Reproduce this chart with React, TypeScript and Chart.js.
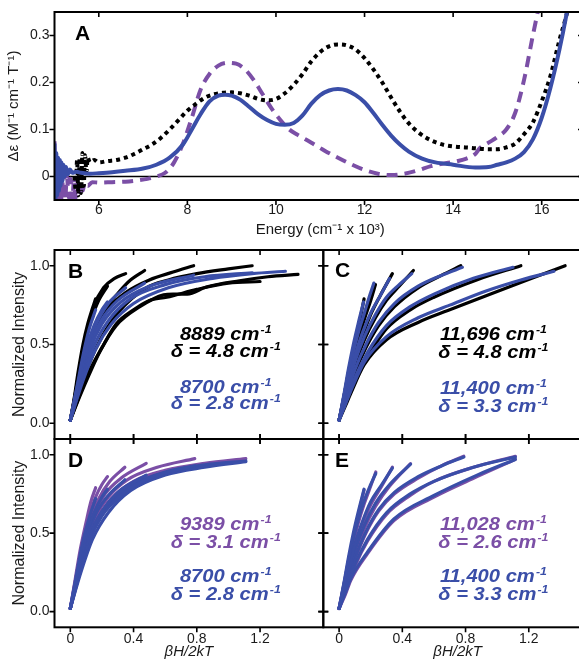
import React, { useEffect, useRef } from 'react';
import { Chart, registerables } from 'chart.js';

Chart.register(...registerables);

const FONT = '"Liberation Sans", Arial, Helvetica, sans-serif';
const INK = '#1a1a1a';
const BLACK = '#000000';
const BLUE = '#3a4ea8';
const PURPLE = '#7b4fa6';
const SUP = '-1';

// ---------------- Panel A : MCD spectra ----------------
const energyBlue = [5.0, 5.02, 5.04, 5.06, 5.08, 5.1, 5.12, 5.14, 5.16, 5.18, 5.2, 5.23, 5.26, 5.3, 5.35, 5.4, 5.5, 5.6, 5.8, 6.0, 6.3, 6.6, 7.0, 7.3, 7.6, 7.9, 8.1, 8.3, 8.5, 8.7, 8.85, 9.0, 9.2, 9.4, 9.6, 9.8, 10.0, 10.2, 10.4, 10.6, 10.8, 11.0, 11.2, 11.4, 11.6, 11.8, 12.0, 12.2, 12.4, 12.6, 12.8, 13.0, 13.3, 13.6, 14.0, 14.5, 14.8, 15.0, 15.2, 15.4, 15.6, 15.8, 16.0, 16.2, 16.4, 16.55, 16.7];
const deltaEpsBlue = [0.07, -0.05, 0.05, -0.04, 0.04, -0.03, 0.035, -0.02, 0.03, -0.01, 0.025, 0.0, 0.02, 0.005, 0.015, 0.008, 0.01, 0.008, 0.006, 0.007, 0.009, 0.012, 0.017, 0.025, 0.04, 0.068, 0.1, 0.133, 0.16, 0.172, 0.174, 0.172, 0.163, 0.148, 0.132, 0.12, 0.112, 0.11, 0.114, 0.13, 0.155, 0.173, 0.183, 0.186, 0.183, 0.173, 0.158, 0.135, 0.11, 0.087, 0.068, 0.053, 0.038, 0.03, 0.025, 0.019, 0.02, 0.025, 0.03, 0.038, 0.052, 0.079, 0.125, 0.19, 0.27, 0.34, 0.42];

const energyBlack = [5.45, 5.48, 5.51, 5.54, 5.57, 5.6, 5.63, 5.66, 5.69, 5.72, 5.75, 5.8, 5.9, 6.0, 6.2, 6.4, 6.6, 6.8, 7.0, 7.2, 7.4, 7.6, 7.8, 8.0, 8.2, 8.4, 8.6, 8.8, 9.0, 9.2, 9.4, 9.6, 9.8, 10.0, 10.2, 10.4, 10.6, 10.8, 11.0, 11.2, 11.4, 11.6, 11.8, 12.0, 12.2, 12.4, 12.6, 12.8, 13.0, 13.2, 13.4, 13.6, 13.8, 14.0, 14.4, 14.8, 15.0, 15.2, 15.4, 15.6, 15.8, 16.0, 16.2, 16.4, 16.55, 16.7];
const deltaEpsBlack = [0.0, -0.03, 0.035, -0.04, 0.04, -0.035, 0.05, -0.02, 0.045, 0.01, 0.04, 0.03, 0.035, 0.03, 0.033, 0.035, 0.04, 0.048, 0.058, 0.068, 0.082, 0.1, 0.12, 0.14, 0.155, 0.168, 0.175, 0.178, 0.179, 0.177, 0.172, 0.165, 0.162, 0.165, 0.177, 0.195, 0.218, 0.245, 0.265, 0.277, 0.281, 0.279, 0.27, 0.252, 0.228, 0.2, 0.168, 0.138, 0.113, 0.095, 0.082, 0.073, 0.067, 0.064, 0.061, 0.058, 0.058, 0.062, 0.07, 0.09, 0.115, 0.16, 0.215, 0.29, 0.34, 0.4];

const energyPurple = [5.0, 5.03, 5.06, 5.09, 5.12, 5.16, 5.2, 5.24, 5.28, 5.32, 5.36, 5.4, 5.44, 5.48, 5.52, 5.56, 5.6, 5.64, 5.68, 5.75, 5.85, 6.0, 6.3, 6.6, 6.9, 7.1, 7.3, 7.5, 7.7, 7.9, 8.1, 8.3, 8.5, 8.7, 8.9, 9.1, 9.3, 9.5, 9.7, 9.9, 10.1, 10.3, 10.5, 10.8, 11.1, 11.4, 11.7, 12.0, 12.3, 12.6, 12.9, 13.2, 13.5, 13.8, 14.1, 14.3, 14.5, 14.6, 14.8, 15.0, 15.2, 15.4, 15.6, 15.8, 16.0];
const deltaEpsPurple = [0.075, -0.05, 0.04, -0.05, 0.02, -0.05, 0.01, -0.05, 0.0, -0.045, -0.005, -0.05, -0.01, -0.045, -0.015, -0.04, -0.01, -0.03, -0.012, -0.02, -0.012, -0.013, -0.012, -0.011, -0.008, -0.005, 0.0, 0.008, 0.03, 0.07, 0.125, 0.185, 0.218, 0.236, 0.242, 0.24, 0.228, 0.205, 0.175, 0.145, 0.12, 0.1, 0.088, 0.072, 0.055, 0.04, 0.026, 0.014, 0.006, 0.003, 0.006, 0.013, 0.022, 0.028, 0.033, 0.038, 0.048, 0.06, 0.072, 0.084, 0.1, 0.135, 0.205, 0.3, 0.39];

const energyTicks = [6, 8, 10, 12, 14, 16];
const deltaEpsTicks = [0, 0.1, 0.2, 0.3];
const satTicksX = [0, 0.4, 0.8, 1.2];
const satTicksY = [0, 0.5, 1.0];

// ---------------- Panel B : 8889 data (black) and 8700 fit (blue) ----------------
const bBlackCurves: number[][][] = [
  [[0, 0.02], [0.02, 0.13], [0.05, 0.33], [0.08, 0.5], [0.11, 0.63], [0.14, 0.73], [0.16, 0.79]],
  [[0, 0.02], [0.03, 0.18], [0.06, 0.36], [0.1, 0.55], [0.14, 0.68], [0.18, 0.78], [0.235, 0.87]],
  [[0, 0.02], [0.04, 0.22], [0.08, 0.44], [0.105, 0.57], [0.147, 0.74], [0.21, 0.86], [0.28, 0.92], [0.35, 0.95]],
  [[0, 0.02], [0.05, 0.22], [0.1, 0.45], [0.15, 0.6], [0.2, 0.7], [0.28, 0.8], [0.37, 0.9], [0.47, 0.97]],
  [[0, 0.02], [0.05, 0.22], [0.1, 0.42], [0.16, 0.6], [0.24, 0.73], [0.35, 0.83], [0.5, 0.91], [0.65, 0.96], [0.78, 1.0]],
  [[0, 0.02], [0.06, 0.2], [0.12, 0.38], [0.2, 0.55], [0.3, 0.7], [0.48, 0.86], [0.62, 0.91], [0.8, 0.95], [1.0, 0.98], [1.15, 1.0]],
  [[0, 0.02], [0.06, 0.18], [0.12, 0.33], [0.2, 0.48], [0.29, 0.63], [0.4, 0.72], [0.5, 0.78], [0.61, 0.8], [0.8, 0.85], [1.0, 0.89], [1.2, 0.9]],
  [[0, 0.02], [0.06, 0.17], [0.12, 0.31], [0.19, 0.46], [0.29, 0.62], [0.44, 0.74], [0.59, 0.815], [0.65, 0.82], [0.74, 0.82], [0.86, 0.865], [1.07, 0.905], [1.25, 0.93], [1.44, 0.945]],
];
const bBlueCurves: number[][][] = [
  [[0, 0.02], [0.04, 0.22], [0.08, 0.43], [0.12, 0.6], [0.16, 0.72]],
  [[0, 0.02], [0.05, 0.26], [0.1, 0.47], [0.15, 0.62], [0.2, 0.72], [0.235, 0.77]],
  [[0, 0.02], [0.05, 0.24], [0.1, 0.45], [0.16, 0.62], [0.24, 0.76], [0.35, 0.86]],
  [[0, 0.02], [0.06, 0.27], [0.12, 0.49], [0.2, 0.66], [0.3, 0.78], [0.47, 0.89]],
  [[0, 0.02], [0.06, 0.25], [0.12, 0.46], [0.2, 0.63], [0.32, 0.77], [0.5, 0.87], [0.78, 0.94]],
  [[0, 0.02], [0.07, 0.26], [0.14, 0.47], [0.24, 0.65], [0.38, 0.79], [0.6, 0.88], [0.85, 0.93], [1.15, 0.955]],
  [[0, 0.02], [0.08, 0.27], [0.16, 0.47], [0.26, 0.63], [0.4, 0.76], [0.62, 0.86], [0.9, 0.92], [1.15, 0.95], [1.36, 0.965]],
];
const bNoteTexts = ['8889 cm', 'δ = 4.8 cm', '8700 cm', 'δ = 2.8 cm'];
const bNoteColors = [BLACK, BLACK, BLUE, BLUE];

// ---------------- Panel C : 11,696 data (black) and 11,400 fit (blue) ----------------
const cBlackCurves: number[][][] = [
  [[0, 0.02], [0.03, 0.17], [0.06, 0.33], [0.09, 0.47], [0.12, 0.6], [0.158, 0.79]],
  [[0, 0.02], [0.04, 0.2], [0.08, 0.38], [0.12, 0.53], [0.16, 0.66], [0.2, 0.78], [0.23, 0.88]],
  [[0, 0.02], [0.05, 0.22], [0.1, 0.41], [0.15, 0.56], [0.2, 0.69], [0.26, 0.81], [0.337, 0.95]],
  [[0, 0.02], [0.05, 0.2], [0.1, 0.37], [0.16, 0.53], [0.23, 0.67], [0.3, 0.78], [0.38, 0.87], [0.47, 0.97]],
  [[0, 0.02], [0.05, 0.18], [0.1, 0.32], [0.17, 0.48], [0.25, 0.62], [0.35, 0.74], [0.5, 0.86], [0.65, 0.94], [0.77, 1.0]],
  [[0, 0.02], [0.05, 0.15], [0.1, 0.27], [0.18, 0.42], [0.3, 0.6], [0.45, 0.72], [0.6, 0.8], [0.87, 0.91], [1.15, 1.0]],
  [[0, 0.02], [0.04, 0.11], [0.074, 0.19], [0.158, 0.37], [0.3, 0.53], [0.5, 0.64], [0.7, 0.72], [0.93, 0.81], [1.19, 0.91], [1.43, 1.0]],
];
const cBlueCurves: number[][][] = [
  [[0, 0.02], [0.03, 0.18], [0.06, 0.35], [0.09, 0.5], [0.12, 0.63], [0.155, 0.77]],
  [[0, 0.02], [0.04, 0.22], [0.08, 0.41], [0.12, 0.57], [0.16, 0.7], [0.19, 0.8], [0.22, 0.89]],
  [[0, 0.02], [0.05, 0.24], [0.1, 0.43], [0.15, 0.58], [0.2, 0.7], [0.26, 0.81], [0.32, 0.92]],
  [[0, 0.02], [0.05, 0.21], [0.1, 0.39], [0.16, 0.55], [0.23, 0.69], [0.3, 0.8], [0.38, 0.88], [0.46, 0.95]],
  [[0, 0.02], [0.05, 0.19], [0.1, 0.34], [0.17, 0.5], [0.25, 0.64], [0.35, 0.76], [0.5, 0.87], [0.65, 0.94], [0.78, 0.99]],
  [[0, 0.02], [0.05, 0.16], [0.1, 0.29], [0.18, 0.45], [0.3, 0.62], [0.45, 0.74], [0.6, 0.82], [0.85, 0.92], [1.1, 0.99]],
  [[0, 0.02], [0.04, 0.12], [0.08, 0.22], [0.16, 0.39], [0.3, 0.55], [0.5, 0.67], [0.7, 0.75], [0.93, 0.84], [1.15, 0.91], [1.36, 0.965]],
];
const cNoteTexts = ['11,696 cm', 'δ = 4.8 cm', '11,400 cm', 'δ = 3.3 cm'];
const cNoteColors = [BLACK, BLACK, BLUE, BLUE];

// ---------------- Panel D : 9389 data (purple) and 8700 fit (blue) ----------------
const dPurpleCurves: number[][][] = [
  [[0, 0.02], [0.03, 0.2], [0.06, 0.38], [0.1, 0.57], [0.13, 0.7], [0.16, 0.79]],
  [[0, 0.02], [0.04, 0.24], [0.08, 0.45], [0.12, 0.61], [0.16, 0.73], [0.2, 0.81], [0.235, 0.86]],
  [[0, 0.02], [0.04, 0.22], [0.08, 0.42], [0.13, 0.6], [0.18, 0.72], [0.25, 0.83], [0.345, 0.92]],
  [[0, 0.02], [0.05, 0.25], [0.1, 0.46], [0.15, 0.62], [0.22, 0.75], [0.32, 0.85], [0.48, 0.945]],
  [[0, 0.02], [0.05, 0.23], [0.1, 0.43], [0.16, 0.6], [0.24, 0.73], [0.36, 0.84], [0.55, 0.92], [0.787, 0.975]],
  [[0, 0.02], [0.05, 0.21], [0.1, 0.4], [0.17, 0.58], [0.26, 0.72], [0.4, 0.83], [0.6, 0.9], [0.85, 0.945], [1.11, 0.975]],
];
const dBlueCurves: number[][][] = [
  [[0, 0.02], [0.04, 0.24], [0.08, 0.45], [0.12, 0.6], [0.16, 0.72]],
  [[0, 0.02], [0.05, 0.27], [0.1, 0.49], [0.15, 0.63], [0.2, 0.73], [0.235, 0.78]],
  [[0, 0.02], [0.05, 0.25], [0.1, 0.46], [0.16, 0.62], [0.24, 0.74], [0.345, 0.84]],
  [[0, 0.02], [0.06, 0.27], [0.12, 0.48], [0.2, 0.64], [0.3, 0.76], [0.48, 0.87]],
  [[0, 0.02], [0.06, 0.25], [0.12, 0.45], [0.2, 0.61], [0.32, 0.74], [0.5, 0.85], [0.787, 0.93]],
  [[0, 0.02], [0.07, 0.26], [0.14, 0.46], [0.24, 0.63], [0.38, 0.77], [0.6, 0.87], [0.85, 0.92], [1.11, 0.955]],
  [[0, 0.02], [0.07, 0.3], [0.14, 0.52], [0.24, 0.68], [0.38, 0.8], [0.6, 0.89], [0.85, 0.935], [1.11, 0.96]],
];
const dNoteTexts = ['9389 cm', 'δ = 3.1 cm', '8700 cm', 'δ = 2.8 cm'];
const dNoteColors = [PURPLE, PURPLE, BLUE, BLUE];

// ---------------- Panel E : 11,028 data (purple) and 11,400 fit (blue) ----------------
const ePurpleCurves: number[][][] = [
  [[0, 0.02], [0.03, 0.17], [0.06, 0.33], [0.09, 0.47], [0.12, 0.61], [0.158, 0.775]],
  [[0, 0.02], [0.04, 0.21], [0.08, 0.4], [0.12, 0.56], [0.16, 0.69], [0.2, 0.8], [0.232, 0.89]],
  [[0, 0.02], [0.05, 0.22], [0.1, 0.41], [0.15, 0.56], [0.2, 0.68], [0.27, 0.8], [0.337, 0.92]],
  [[0, 0.02], [0.05, 0.2], [0.1, 0.37], [0.16, 0.53], [0.23, 0.67], [0.32, 0.8], [0.452, 0.943]],
  [[0, 0.02], [0.05, 0.18], [0.1, 0.33], [0.17, 0.5], [0.25, 0.64], [0.35, 0.75], [0.5, 0.85], [0.65, 0.93], [0.789, 0.99]],
  [[0, 0.02], [0.05, 0.16], [0.1, 0.29], [0.18, 0.45], [0.3, 0.62], [0.45, 0.74], [0.6, 0.83], [0.85, 0.92], [1.115, 0.99]],
  [[0, 0.02], [0.04, 0.11], [0.074, 0.2], [0.18, 0.37], [0.347, 0.58], [0.6, 0.73], [0.873, 0.86], [1.115, 0.97]],
];
const eBlueCurves: number[][][] = [
  [[0, 0.02], [0.03, 0.18], [0.06, 0.35], [0.09, 0.5], [0.12, 0.63], [0.158, 0.78]],
  [[0, 0.02], [0.04, 0.22], [0.08, 0.42], [0.12, 0.58], [0.16, 0.71], [0.2, 0.81], [0.232, 0.88]],
  [[0, 0.02], [0.05, 0.23], [0.1, 0.43], [0.15, 0.58], [0.2, 0.7], [0.27, 0.81], [0.337, 0.915]],
  [[0, 0.02], [0.05, 0.21], [0.1, 0.39], [0.16, 0.55], [0.23, 0.69], [0.32, 0.81], [0.452, 0.94]],
  [[0, 0.02], [0.05, 0.19], [0.1, 0.34], [0.17, 0.51], [0.25, 0.65], [0.35, 0.76], [0.5, 0.86], [0.65, 0.93], [0.789, 0.985]],
  [[0, 0.02], [0.05, 0.17], [0.1, 0.3], [0.18, 0.46], [0.3, 0.63], [0.45, 0.75], [0.6, 0.83], [0.85, 0.92], [1.115, 0.985]],
  [[0, 0.02], [0.04, 0.12], [0.074, 0.21], [0.18, 0.38], [0.347, 0.59], [0.6, 0.74], [0.873, 0.87], [1.115, 0.97]],
];
const eNoteTexts = ['11,028 cm', 'δ = 2.6 cm', '11,400 cm', 'δ = 3.3 cm'];
const eNoteColors = [PURPLE, PURPLE, BLUE, BLUE];

// ---------------- helpers ----------------
const zipXY = (xs: number[], ys: number[]) => xs.map((x, i) => ({ x, y: ys[i] }));

const curveSets = (curves: number[][][], color: string, width = 3.2) =>
  curves.map((c) => ({
    data: c.map(([x, y]) => ({ x, y })),
    borderColor: color,
    borderWidth: width,
    pointRadius: 0,
    fill: false,
    cubicInterpolationMode: 'monotone',
    borderCapStyle: 'round',
    borderJoinStyle: 'round',
  }));

const specLine = (xs: number[], ys: number[], color: string, dash: number[]) => ({
  data: zipXY(xs, ys),
  borderColor: color,
  borderWidth: 4,
  borderDash: dash,
  borderCapStyle: 'butt',
  pointRadius: 0,
  fill: false,
  cubicInterpolationMode: 'monotone',
});

function drawNote(ctx: CanvasRenderingContext2D, cx: number, baseline: number, text: string, color: string) {
  const mainFont = `italic bold 18px ${FONT}`;
  const supFont = `italic bold 11px ${FONT}`;
  const sx = 1.12;
  ctx.save();
  ctx.font = mainFont;
  const w1 = ctx.measureText(text).width;
  ctx.font = supFont;
  const w2 = ctx.measureText(SUP).width;
  const total = (w1 + 1 + w2) * sx;
  ctx.translate(cx - total / 2, baseline);
  ctx.scale(sx, 1);
  ctx.fillStyle = color;
  ctx.textAlign = 'left';
  ctx.textBaseline = 'alphabetic';
  ctx.font = mainFont;
  ctx.fillText(text, 0, 0);
  ctx.font = supFont;
  ctx.fillText(SUP, w1 + 1, -7);
  ctx.restore();
}

function makePlugins(s: any) {
  const frame = {
    id: 'frame',
    beforeDatasetsDraw(chart: any) {
      if (!s.zeroLine) return;
      const { ctx, chartArea: a, scales } = chart;
      const y0 = scales.y.getPixelForValue(0);
      ctx.save();
      ctx.strokeStyle = '#000';
      ctx.lineWidth = 1.5;
      ctx.beginPath();
      ctx.moveTo(a.left, y0);
      ctx.lineTo(a.right, y0);
      ctx.stroke();
      ctx.restore();
    },
    afterDraw(chart: any) {
      const { ctx, chartArea: a, scales } = chart;
      const xs = scales.x;
      const ys = scales.y;
      const sd = s.sides;
      ctx.save();
      ctx.strokeStyle = '#000';
      ctx.lineWidth = 1.6;
      ctx.beginPath();
      for (const t of xs.ticks) {
        const p = xs.getPixelForValue(t.value);
        const [bo, bi] = sd.bottom;
        if (bo || bi) { ctx.moveTo(p, a.bottom - bi); ctx.lineTo(p, a.bottom + bo); }
        const [to, ti] = sd.top;
        if (to || ti) { ctx.moveTo(p, a.top - to); ctx.lineTo(p, a.top + ti); }
      }
      for (const t of ys.ticks) {
        const p = ys.getPixelForValue(t.value);
        const [lo, li] = sd.left;
        if (lo || li) { ctx.moveTo(a.left - lo, p); ctx.lineTo(a.left + li, p); }
        const [ro, ri] = sd.right;
        if (ro || ri) { ctx.moveTo(a.right - ri, p); ctx.lineTo(a.right + ro, p); }
      }
      ctx.stroke();
      ctx.lineWidth = 2;
      ctx.strokeRect(a.left, a.top, a.right - a.left, a.bottom - a.top);
      ctx.restore();
    },
  };
  const notes = {
    id: 'notes',
    afterDraw(chart: any) {
      const { ctx, chartArea: a, scales } = chart;
      ctx.save();
      ctx.fillStyle = '#000';
      ctx.font = `bold 21px ${FONT}`;
      ctx.textAlign = 'left';
      ctx.textBaseline = 'alphabetic';
      ctx.fillText(s.letter, a.left + s.letterDx, a.top + s.letterDy);
      ctx.restore();
      if (s.noteTexts) {
        const cx = scales.x.getPixelForValue(s.noteAt[0]);
        const by = scales.y.getPixelForValue(s.noteAt[1]);
        s.noteTexts.forEach((t: string, i: number) => drawNote(ctx, cx, by + s.noteOffsets[i], t, s.noteColors[i]));
      }
    },
  };
  return [frame, notes];
}

function buildConfig(s: any) {
  const tickFont = { size: 14, family: FONT };
  return {
    type: 'line',
    data: { datasets: s.datasets },
    options: {
      animation: false,
      responsive: false,
      maintainAspectRatio: false,
      devicePixelRatio: 1,
      events: [],
      layout: { padding: { top: s.padTop, right: s.padRight, left: 0, bottom: 0 } },
      plugins: { legend: { display: false }, tooltip: { enabled: false }, title: { display: false } },
      scales: {
        x: {
          type: 'linear',
          min: s.xMin,
          max: s.xMax,
          grid: { display: false, drawTicks: false },
          border: { display: false },
          afterBuildTicks: (sc: any) => { sc.ticks = s.xTicks.map((v: number) => ({ value: v })); },
          afterFit: (sc: any) => { sc.height = s.xHeight; },
          ticks: {
            display: s.showX,
            padding: s.xTickPad,
            font: tickFont,
            color: INK,
            maxRotation: 0,
            autoSkip: false,
            callback: (v: any) => s.xFmt(Number(v)),
          },
          title: s.xTitle
            ? { display: true, text: s.xTitle, color: INK, font: { size: 15, family: FONT, style: s.xItalic ? 'italic' : 'normal' }, padding: { top: 0, bottom: s.xTitlePad } }
            : { display: false },
        },
        y: {
          type: 'linear',
          min: s.yMin,
          max: s.yMax,
          grid: { display: false, drawTicks: false },
          border: { display: false },
          afterBuildTicks: (sc: any) => { sc.ticks = s.yTicks.map((v: number) => ({ value: v })); },
          afterFit: (sc: any) => { sc.width = s.yWidth; },
          ticks: {
            display: s.showY,
            padding: 5,
            font: tickFont,
            color: INK,
            autoSkip: false,
            callback: (v: any) => s.yFmt(Number(v)),
          },
          title: s.yTitle
            ? { display: true, text: s.yTitle, color: INK, font: { size: s.yTitleSize, family: FONT }, padding: { top: s.yTitlePad, bottom: 0 } }
            : { display: false },
        },
      },
    },
    plugins: makePlugins(s),
  };
}

const fmtSat = (v: number) => (Math.abs(v) < 1e-9 ? '0' : v.toFixed(1));
const fmtSatY = (v: number) => v.toFixed(1);
const fmtA = (v: number) => (Math.abs(v) < 1e-9 ? '0' : v.toFixed(1));

const satBase = {
  xMin: -0.1, xMax: 1.6, yMin: -0.1, yMax: 1.1,
  xTicks: satTicksX, yTicks: satTicksY, xFmt: fmtSat, yFmt: fmtSatY,
  padTop: 20,
};

const panelA = {
  left: 0, top: -10, w: 600, h: 255,
  padTop: 22, padRight: 14, yWidth: 54.5, xHeight: 45,
  xMin: 5, xMax: 17, yMin: -0.05, yMax: 0.35,
  xTicks: energyTicks, yTicks: deltaEpsTicks,
  xFmt: (v: number) => String(v), yFmt: fmtA,
  showX: true, showY: true, xTickPad: 2,
  xTitle: 'Energy (cm⁻¹ x 10³)', xTitlePad: 6, xItalic: false,
  yTitle: 'Δε (M⁻¹ cm⁻¹ T⁻¹)', yTitlePad: 5, yTitleSize: 15,
  zeroLine: true,
  sides: { left: [5, 0], right: [0, 8], top: [0, 5], bottom: [5, 0] },
  letter: 'A', letterDx: 20.5, letterDy: 28,
  datasets: [
    specLine(energyBlue, deltaEpsBlue, BLUE, []),
    specLine(energyBlack, deltaEpsBlack, BLACK, [4, 4]),
    specLine(energyPurple, deltaEpsPurple, PURPLE, [11, 7]),
  ],
};

const panelB = {
  ...satBase,
  left: 0, top: 230, w: 340, h: 230,
  padRight: 16.7, yWidth: 54.5, xHeight: 21,
  showX: false, showY: true, xTickPad: 3,
  yTitle: 'Normalized Intensity', yTitlePad: 9.9, yTitleSize: 16,
  sides: { left: [5, 0], right: [5, 5], top: [0, 5], bottom: [5, 5] },
  letter: 'B', letterDx: 13.5, letterDy: 28,
  noteTexts: bNoteTexts, noteColors: bNoteColors, noteAt: [0.983, 0.528], noteOffsets: [0, 17.3, 52.7, 69.3],
  datasets: [...curveSets(bBlueCurves, BLUE), ...curveSets(bBlackCurves, BLACK)],
};

const panelC = {
  ...satBase,
  left: 300, top: 230, w: 300, h: 230,
  padRight: 8, yWidth: 23.3, xHeight: 21,
  showX: false, showY: false, xTickPad: 3,
  sides: { left: [5, 5], right: [0, 5], top: [0, 5], bottom: [5, 5] },
  letter: 'C', letterDx: 11.7, letterDy: 27,
  noteTexts: cNoteTexts, noteColors: cNoteColors, noteAt: [0.976, 0.528], noteOffsets: [0, 18, 54, 71.7],
  datasets: [...curveSets(cBlueCurves, BLUE), ...curveSets(cBlackCurves, BLACK)],
};

const panelD = {
  ...satBase,
  left: 0, top: 419, w: 340, h: 242,
  padRight: 16.7, yWidth: 54.5, xHeight: 33.7,
  showX: true, showY: true, xTickPad: 3,
  xTitle: 'βH/2kT', xTitlePad: 0, xItalic: true,
  yTitle: 'Normalized Intensity', yTitlePad: 9.9, yTitleSize: 16,
  sides: { left: [5, 0], right: [5, 5], top: [5, 5], bottom: [5, 0] },
  letter: 'D', letterDx: 13.5, letterDy: 28,
  noteTexts: dNoteTexts, noteColors: dNoteColors, noteAt: [0.983, 0.519], noteOffsets: [0, 18.3, 51.7, 70],
  datasets: [...curveSets(dBlueCurves, BLUE), ...curveSets(dPurpleCurves, PURPLE)],
};

const panelE = {
  ...satBase,
  left: 300, top: 419, w: 300, h: 242,
  padRight: 8, yWidth: 23.3, xHeight: 33.7,
  showX: true, showY: false, xTickPad: 3,
  xTitle: 'βH/2kT', xTitlePad: 0, xItalic: true,
  sides: { left: [5, 5], right: [0, 5], top: [5, 5], bottom: [5, 0] },
  letter: 'E', letterDx: 11.7, letterDy: 28,
  noteTexts: eNoteTexts, noteColors: eNoteColors, noteAt: [0.976, 0.519], noteOffsets: [0, 18.3, 51.7, 70],
  datasets: [...curveSets(eBlueCurves, BLUE), ...curveSets(ePurpleCurves, PURPLE)],
};

function Panel({ spec }: { spec: any }) {
  const ref = useRef<HTMLCanvasElement>(null);
  useEffect(() => {
    const chart = new Chart(ref.current as HTMLCanvasElement, buildConfig(spec) as any);
    return () => chart.destroy();
  }, [spec]);
  return (
    <canvas
      ref={ref}
      width={spec.w}
      height={spec.h}
      style={{ position: 'absolute', left: spec.left, top: spec.top, width: spec.w, height: spec.h }}
    />
  );
}

export default function App() {
  return (
    <div style={{ position: 'fixed', left: 0, top: 0, width: 579, height: 661, overflow: 'hidden', background: '#fff' }}>
      <Panel spec={panelA} />
      <Panel spec={panelB} />
      <Panel spec={panelC} />
      <Panel spec={panelD} />
      <Panel spec={panelE} />
    </div>
  );
}
